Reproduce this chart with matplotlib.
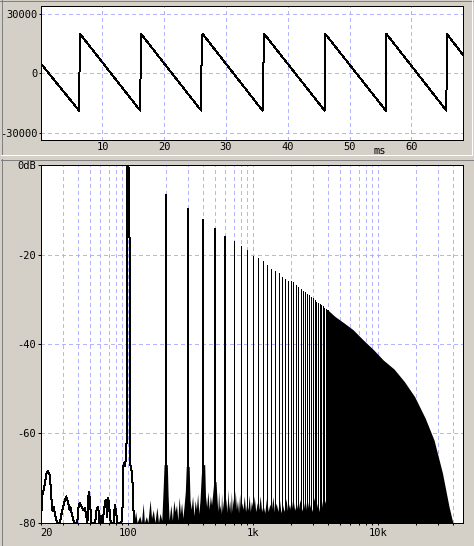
import matplotlib
matplotlib.use("Agg")
import matplotlib.pyplot as plt
import matplotlib.ticker as mticker
from matplotlib.lines import Line2D

W, H = 474, 546
BG = '#d4d0c8'
GRID = '#b4b4ff'

# --- waveform (ms, sample value), vertices of the sawtooth
wave_t = [0.0, 6.2, 6.36, 16.1, 16.23, 25.97, 26.05, 26.2, 35.9, 36.16,
          45.95, 46.05, 55.86, 55.95, 65.66, 65.74, 68.4]
wave_v = [5000, -18700, 19800, -18700, 19800, -18700, 13300, 19800, -18700, 19800,
          -18700, 19800, -18700, 19800, -18700, 19800, 9000]
wave_xticks = [10, 20, 30, 40, 50, 60]
wave_yticks = [-30000, 0, 30000]
wave_ylabels = ['-30000', '0', '30000']

# --- spectrum: low end line incl. the 100 Hz fundamental (Hz, dB)
lf_freq = [20, 20.7, 21.2, 22.3, 22.9, 23.6, 23.9, 24.4, 24.9, 25.5, 26.0, 27.1,
           28.5, 29.4, 31.2, 32.0, 33.0, 34.0, 34.5, 36.4, 37.5, 39.2, 40.3, 41.0,
           43.8, 45.1, 47.3, 48.2, 48.8, 50.1, 50.9, 54.5, 56.0, 57.6, 59.1, 61.0,
           62.5, 65.2, 66.4, 68.1, 69.4, 70.6, 72.6, 76.5, 78.4, 80.5, 82, 88.5,
           90.3, 91.1, 92.3, 94.7, 96.4, 97.2, 97.4, 97.9, 98.6, 100.5, 101.3,
           102.6, 103.2, 103.4, 106.4, 109.8, 110.9]
lf_db = [-80, -73.4, -72.6, -68.9, -68.5, -69.3, -71.1, -74.9, -77.5, -76.4, -78.2, -80,
         -80, -77.9, -74.9, -74.1, -75.3, -77.1, -76.4, -79.4, -80, -80, -76.0, -75.6,
         -77.1, -76.7, -80, -74.0, -73.2, -77.1, -80, -80, -77.1, -76.4, -80, -78.5,
         -80, -75.6, -74.9, -78.7, -74.5, -76.4, -80, -80, -76.0, -78.0, -80, -80,
         -76.4, -68.2, -66.7, -67.4, -64.4, -62.0, -40.0, -10.6, 0.0, 0.0, -1.7,
         -16.0, -17.0, -66.7, -68.2, -72.6, -80]

# noise floor between the harmonics
noise_freq = [111, 115, 118, 124, 128, 132, 135, 140, 144, 150, 154, 159, 164, 170,
              175, 180, 186, 191, 194, 206, 209, 213, 220, 226, 232, 238, 244, 250,
              256, 262, 268, 274, 281, 287, 292, 308, 313, 320, 328, 336, 344, 352,
              360, 368, 376, 384, 390, 410, 416, 425, 435, 445, 455, 465, 475, 485,
              495, 505, 515, 522, 530, 538, 545, 552, 560, 567, 575, 582, 590, 600,
              610, 620, 630, 640, 650, 660, 670, 680, 690, 705, 720, 735, 750, 765,
              780, 795, 810, 830, 850, 870, 890, 910, 930, 950, 970, 1000, 1020,
              1050, 1080, 1110, 1140, 1170, 1200, 1240, 1280, 1320, 1360, 1400,
              1440, 1480, 1530, 1580, 1620, 1670, 1720, 1770, 1830, 1890, 1950,
              2010, 2080, 2150, 2220, 2290, 2370, 2450, 2530, 2610, 2700, 2790,
              2880, 2970, 3070, 3170, 3280, 3390, 3500, 3620, 3750, 3870, 4000]
noise_db = [-80, -77.5, -80, -78.5, -80, -75.6, -80, -78.6, -80, -74.9, -79, -77.1,
            -80, -76.5, -80, -77.9, -79.5, -72, -67, -67, -74, -79.5, -76, -79.5,
            -75, -77.5, -76, -79.5, -74.2, -78, -75.5, -79, -76, -73, -67.4, -67.4,
            -75, -77, -74, -78.5, -75, -77, -73.5, -78, -75, -70, -67, -67, -74,
            -76.5, -73, -77, -74, -76, -73.5, -70.8, -70.8, -70.8, -75, -77.5, -73,
            -77, -76, -78, -73.4, -77.5, -75, -78, -73, -77, -74.5, -77.8, -72.5,
            -77, -75, -78, -73, -77.5, -74.5, -77.5, -72.8, -77, -75, -77.8, -73.5,
            -77.5, -75.5, -77, -74, -77.5, -75.5, -77.2, -73.8, -77.5, -75.2, -77,
            -74, -77.5, -75.5, -77, -74, -77.5, -76, -77.8, -74.5, -77.5, -75.8,
            -77.2, -74.2, -77.5, -75.6, -77.5, -74.5, -77.8, -76, -77.5, -74.6,
            -77.6, -75.8, -77.5, -74.5, -77.2, -75.7, -77.5, -74.8, -77.4, -75.5,
            -77.6, -74.6, -77.2, -75.8, -77.5, -74.3, -77.4, -75.5, -77.5, -74.5,
            -77.2, -75, -77, -74.8]

# harmonic peaks 200 Hz .. 4 kHz
harm_freq = [200, 300, 400, 500, 600, 700, 800, 900, 1000, 1100, 1200, 1300, 1400,
             1500, 1600, 1700, 1800, 1900, 2000, 2100, 2200, 2300, 2400, 2500, 2600,
             2700, 2800, 2900, 3000, 3100, 3200, 3300, 3400, 3500, 3600, 3700, 3800,
             3900, 4000]
harm_db = [-6.4, -9.6, -12.1, -14.1, -15.8, -16.9, -18.1, -19.0, -20.3, -20.8, -21.4,
           -22.3, -23.2, -23.6, -24.2, -24.9, -25.4, -25.8, -25.9, -26.2, -26.7, -27.2,
           -27.6, -28.1, -28.4, -28.8, -29.1, -29.4, -29.8, -30.2, -30.6, -30.8, -31.0,
           -31.3, -31.6, -31.9, -32.1, -32.3, -32.5]

# upper edge of the dense harmonic block
env_freq = [4000, 4500, 5400, 6300, 7600, 9200, 11000, 13400, 16200, 19600, 23800,
            28000, 32700, 36900, 39600]
env_db = [-32.5, -33.8, -35.4, -36.8, -39.1, -41.3, -43.6, -45.6, -48.4, -51.8, -56.6,
          -61.5, -68.9, -76.4, -80]

spec_xticks = [20, 100, 1000, 10000]
spec_xlabels = ['20', '100', '1k', '10k']
spec_yticks = [-80, -60, -40, -20, 0]
spec_ylabels = ['-80', '-60', '-40', '-20', '0dB']

plt.rcParams['font.family'] = 'DejaVu Sans Mono'
plt.rcParams['font.size'] = 7.5
plt.rcParams['axes.unicode_minus'] = False

fig = plt.figure(figsize=(W / 100, H / 100), dpi=100, facecolor=BG)


def box(x0, y0, x1, y1):
    return [x0 / W, 1 - y1 / H, (x1 - x0) / W, (y1 - y0) / H]


def edge(xs, ys, color):
    fig.add_artist(Line2D([x / W for x in xs], [1 - y / H for y in ys],
                          transform=fig.transFigure, color=color, lw=0.72,
                          antialiased=False))


# sunken panel borders
edge([0, 474], [0.5, 0.5], '#808080')
edge([1.5, 1.5], [0, 155], '#808080')
edge([1, 472], [155, 155], 'white')
edge([471.5, 471.5], [0, 155], 'white')
edge([1, 474], [159.5, 159.5], '#808080')
edge([1.5, 1.5], [159, 546], '#808080')

grid_kw = dict(color=GRID, lw=0.72, ls=(0, (3, 3)), antialiased=False)


def frame(ax):
    for sp in ax.spines.values():
        sp.set_linewidth(0.72)
        sp.set_antialiased(False)
    ax.set_facecolor('white')


# waveform panel
ax1 = fig.add_axes(box(40.7, 6, 463.3, 140))
frame(ax1)
ax1.plot(wave_t, wave_v, color='k', lw=0.72, antialiased=False)
ax1.set_xlim(0, 68.4)
ax1.set_ylim(-33460, 33770)
ax1.set_xticks(wave_xticks)
ax1.set_yticks(wave_yticks, wave_ylabels)
ax1.tick_params(axis='x', length=0, pad=1.8)
ax1.tick_params(axis='y', length=1.5, width=0.72, pad=0.8)
ax1.grid(True, **grid_kw)
ax1.set_axisbelow(True)
ax1.text(54.8, -0.08, 'ms', transform=ax1.get_xaxis_transform(),
         ha='center', va='center')

# spectrum panel
ax2 = fig.add_axes(box(40.7, 165.3, 463.3, 522.7))
frame(ax2)
ax2.set_xscale('log')
ax2.set_axisbelow(True)
ax2.fill_between(noise_freq, -80, noise_db, color='k', lw=0, antialiased=False)
ax2.fill_between(env_freq, -80, env_db, color='k', lw=0, antialiased=False)
ax2.plot(lf_freq, lf_db, color='k', lw=0.72, antialiased=False)
ax2.vlines(harm_freq[:5], -80, harm_db[:5], colors='k', lw=1.44, antialiased=False)
ax2.vlines(harm_freq[5:], -80, harm_db[5:], colors='k', lw=0.72, antialiased=False)
ax2.set_xlim(20, 48000)
ax2.set_ylim(-80, 0)
ax2.set_xticks(spec_xticks, spec_xlabels)
ax2.xaxis.set_minor_locator(mticker.LogLocator(base=10, subs=range(2, 10), numticks=20))
ax2.xaxis.set_minor_formatter(mticker.NullFormatter())
ax2.set_yticks(spec_yticks, spec_ylabels)
ax2.tick_params(axis='x', which='both', length=1.44, width=0.72, pad=2.7)
ax2.tick_params(axis='y', length=2.2, width=0.72, pad=1.0)
ax2.grid(True, which='both', **grid_kw)
ax2.get_xticklabels()[0].set_horizontalalignment('left')

fig.savefig('out.png', dpi=100, facecolor=BG)
